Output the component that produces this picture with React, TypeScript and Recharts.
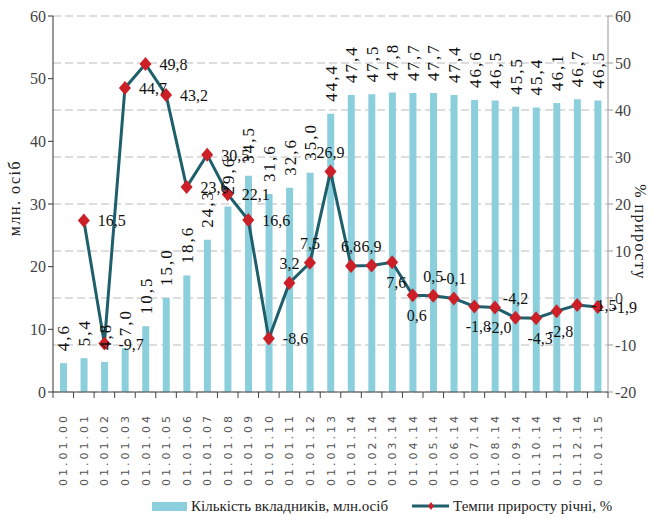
import { ComposedChart, Bar, Line, XAxis, YAxis, CartesianGrid, Legend, LabelList, Label } from "recharts";

const categories = [
  "01.01.00", "01.01.01", "01.01.02", "01.01.03", "01.01.04", "01.01.05", "01.01.06",
  "01.01.07", "01.01.08", "01.01.09", "01.01.10", "01.01.11", "01.01.12", "01.01.13",
  "01.01.14", "01.02.14", "01.03.14", "01.04.14", "01.05.14", "01.06.14", "01.07.14",
  "01.08.14", "01.09.14", "01.10.14", "01.11.14", "01.12.14", "01.01.15",
];

// кількість вкладників, млн осіб
const depositors = [
  4.6, 5.4, 4.8, 7.0, 10.5, 15.0, 18.6, 24.3, 29.6, 34.5, 31.6, 32.6, 35.0, 44.4,
  47.4, 47.5, 47.8, 47.7, 47.7, 47.4, 46.6, 46.5, 45.5, 45.4, 46.1, 46.7, 46.5,
];

// темпи приросту річні, %
const growth = [
  null, 16.5, -9.7, 44.7, 49.8, 43.2, 23.6, 30.5, 22.1, 16.6, -8.6, 3.2, 7.5, 26.9,
  6.8, 6.9, 7.6, 0.6, 0.5, -0.1, -1.8, -2.0, -4.2, -4.3, -2.8, -1.5, -1.9,
];

const leftTicks = [0, 10, 20, 30, 40, 50, 60];
const rightTicks = [-20, -10, 0, 10, 20, 30, 40, 50, 60];

// where each growth label sits relative to its marker
const growthLabelSide = [
  "r", "r", "r", "r", "r", "r", "r", "r", "r", "r", "r", "a", "a", "a",
  "a", "a", "b", "b", "a", "a", "b", "b", "a", "b", "b", "r", "r",
];

const data = categories.map((date, i) => ({
  date,
  depositors: depositors[i],
  growth: growth[i],
}));

const W = 653;
const H = 518;
const LEFT_W = 53;
const RIGHT_W = 45;
const BAND = (W - LEFT_W - RIGHT_W) / categories.length;

const BAR_COLOR = "#8ccfdc";
const LINE_COLOR = "#1f5f6b";
const DOT_COLOR = "#cc1f27";
const SERIF = "'Liberation Serif', 'Times New Roman', serif";

const fmt = (v: number) => v.toFixed(1).replace(".", ",");

function DateTick({ x, y, payload, index }: any) {
  const last = index === categories.length - 1;
  return (
    <g>
      <line x1={x - BAND / 2} x2={x - BAND / 2} y1={y} y2={y + 6} stroke="#444" />
      {last && <line x1={x + BAND / 2} x2={x + BAND / 2} y1={y} y2={y + 6} stroke="#444" />}
      <text
        transform={`translate(${x + 4},${y + 21}) rotate(-90)`}
        textAnchor="end"
        fontFamily="'DejaVu Sans', sans-serif"
        fontSize={11}
        letterSpacing={3}
        fill="#555"
      >
        {payload.value}
      </text>
    </g>
  );
}

function BarValue({ x, y, width, value }: any) {
  const cx = x + width / 2 + 6;
  return (
    <text
      transform={`translate(${cx},${y - 12}) rotate(-90)`}
      textAnchor="start"
      fontFamily={SERIF}
      fontSize={17}
      letterSpacing={2}
      fill="#111"
    >
      {fmt(value)}
    </text>
  );
}

function GrowthValue({ x, y, value, index }: any) {
  if (value == null) return null;
  const side = growthLabelSide[index];
  let tx = x + 14;
  let ty = y + 6;
  let anchor = "start";
  if (side === "a") {
    tx = x;
    ty = y - 14;
    anchor = "middle";
  } else if (side === "b") {
    tx = x + 4;
    ty = y + 26;
    anchor = "middle";
  }
  return (
    <text x={tx} y={ty} textAnchor={anchor} fontFamily={SERIF} fontSize={16} fill="#111">
      {fmt(value)}
    </text>
  );
}

function Diamond({ cx, cy, index }: any) {
  if (cy == null || isNaN(cy)) return <g key={index} />;
  return (
    <path
      key={index}
      d={`M${cx},${cy - 7} L${cx + 6},${cy} L${cx},${cy + 7} L${cx - 6},${cy} Z`}
      fill={DOT_COLOR}
    />
  );
}

function LegendBox() {
  return (
    <div
      style={{
        display: "flex",
        alignItems: "center",
        height: 24,
        fontFamily: SERIF,
        fontSize: 15,
        color: "#222",
        paddingLeft: 152,
      }}
    >
      <span style={{ display: "inline-block", width: 35, height: 9, background: BAR_COLOR, marginRight: 4 }} />
      <span>Кількість вкладників, млн.осіб</span>
      <svg width={37} height={14} style={{ marginLeft: 24, marginRight: 4 }}>
        <line x1={0} x2={37} y1={7} y2={7} stroke={LINE_COLOR} strokeWidth={3} />
        <path d="M19,3 L22,7 L19,11 L16,7 Z" fill={DOT_COLOR} />
      </svg>
      <span>Темпи приросту річні, %</span>
    </div>
  );
}

function AxisTitle({ viewBox, text, side }: any) {
  const { x, y, height } = viewBox;
  const cx = side === "left" ? x + 20 : x + 27;
  const cy = y + height / 2 + (side === "left" ? -6 : 28);
  return (
    <text
      transform={`translate(${cx},${cy}) rotate(${side === "left" ? -90 : 90})`}
      textAnchor="middle"
      fontFamily={SERIF}
      fontSize={16}
      letterSpacing={1.5}
      fill="#222"
    >
      {text}
    </text>
  );
}

export default function App() {
  return (
    <div style={{ position: "absolute", left: 0, top: 0, background: "#fff" }}>
      <ComposedChart width={W} height={H} data={data} margin={{ top: 16, right: 0, bottom: 0, left: 0 }} barCategoryGap="34%">
        <CartesianGrid yAxisId="right" vertical={false} stroke="#bbb" strokeDasharray="8 4" />
        <XAxis
          dataKey="date"
          xAxisId={0}
          tick={<DateTick />}
          tickLine={false}
          tickSize={0}
          tickMargin={0}
          interval={0}
          height={102}
          stroke="#444"
        />
        <YAxis
          yAxisId="left"
          width={LEFT_W}
          domain={[0, 60]}
          ticks={leftTicks}
          stroke="#333"
          tickSize={5}
          tick={{ fontFamily: SERIF, fontSize: 16, fill: "#444" }}
        >
          <Label content={(p: any) => <AxisTitle {...p} text="млн. осіб" side="left" />} />
        </YAxis>
        <YAxis
          yAxisId="right"
          orientation="right"
          width={RIGHT_W}
          domain={[-20, 60]}
          ticks={rightTicks}
          stroke="#999"
          tickSize={5}
          tick={{ fontFamily: SERIF, fontSize: 16, fill: "#444" }}
        >
          <Label content={(p: any) => <AxisTitle {...p} text="% приросту" side="right" />} />
        </YAxis>
        <Bar yAxisId="left" dataKey="depositors" fill={BAR_COLOR} isAnimationActive={false}>
          <LabelList dataKey="depositors" content={<BarValue />} />
        </Bar>
        <Line
          yAxisId="right"
          dataKey="growth"
          stroke={LINE_COLOR}
          strokeWidth={3}
          dot={<Diamond />}
          activeDot={false}
          isAnimationActive={false}
        >
          <LabelList dataKey="growth" content={<GrowthValue />} />
        </Line>
        <Legend verticalAlign="bottom" content={<LegendBox />} />
      </ComposedChart>
    </div>
  );
}
